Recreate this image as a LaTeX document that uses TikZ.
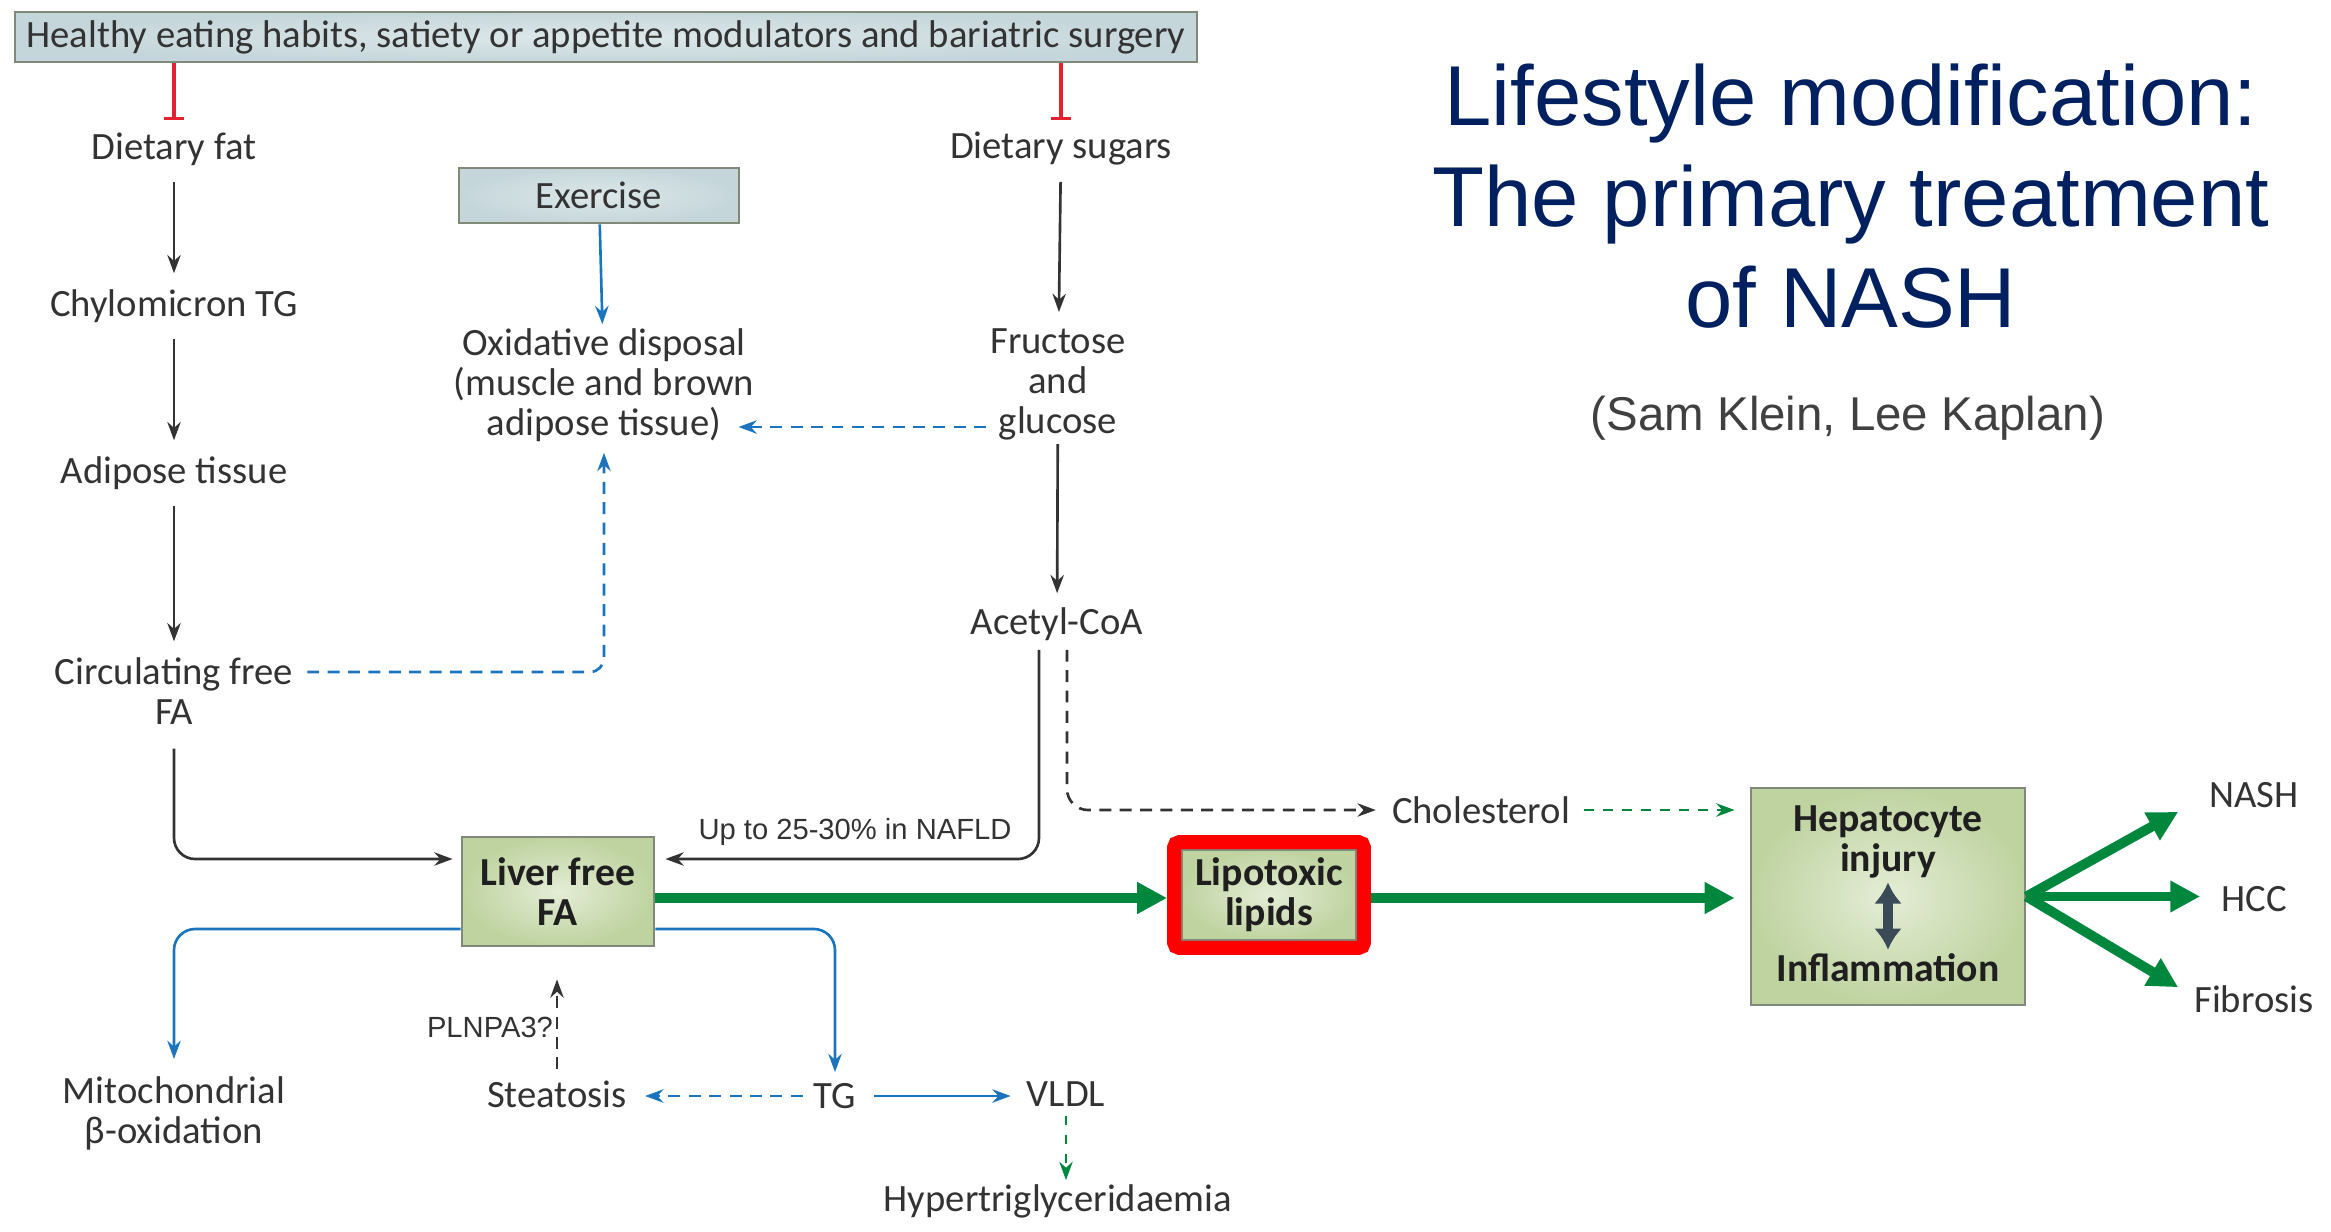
\documentclass[tikz,border=0pt]{standalone}
\usepackage{fontspec}
\setmainfont{Carlito}
\newfontfamily\arial{Liberation Sans}
\usetikzlibrary{arrows.meta}
\usetikzlibrary{fit}
\definecolor{txtgrey}{HTML}{333333}
\definecolor{authgrey}{HTML}{404040}
\definecolor{nblue}{HTML}{1C75BC}
\definecolor{ngreen}{HTML}{00873E}
\definecolor{nred}{HTML}{E3212F}
\definecolor{boxgreen}{HTML}{BFD3A0}
\definecolor{boxgreenin}{HTML}{E4EDD6}
\definecolor{boxblue}{HTML}{C5D6DA}
\definecolor{boxbluein}{HTML}{DDE8EA}
\definecolor{boxedge}{HTML}{80897A}
\definecolor{navy}{HTML}{002060}
\definecolor{slate}{HTML}{3A4A57}

\begin{document}
\begin{tikzpicture}[
  lbl/.style={text=txtgrey, font=\fontsize{11}{11.4}\selectfont, align=center, inner sep=1pt},
  btxt/.style={text=black!88, font=\bfseries\fontsize{11.3}{11.4}\selectfont, align=center, inner sep=1pt},
  greenbox/.style={btxt, draw=boxedge, line width=0.8pt, inner color=boxgreenin, outer color=boxgreen, inner sep=0pt},
  bluebox/.style={lbl, draw=boxedge, line width=0.8pt, inner color=boxbluein, outer color=boxblue, inner sep=0pt},
  arl/.style={text=txtgrey, font=\arial\fontsize{8.3}{10}\selectfont, inner sep=1pt},
  blk/.style={txtgrey, line width=0.75pt, -{Stealth[length=\l, width=\w]}},
  blu/.style={nblue, line width=0.75pt, -{Stealth[length=\l, width=\w]}},
  gdsh/.style={ngreen, line width=0.75pt, dash pattern=on 2.8pt off 2.6pt, -{Stealth[length=\l, width=\w]}},
  grn/.style={ngreen, line width=2.8pt, -{Triangle[length=8.5pt, width=8.5pt]}},
  dsh/.style={dash pattern=on 3.4pt off 2.4pt},
  gap/.style={shorten <=0.12cm, shorten >=0.12cm},
  inh/.style={nred, line width=0.9pt, -{Bar[width=5.5pt]}},
]
\def\l{5.2pt}
\def\w{3.8pt}
\useasboundingbox (0,0) rectangle (23.31,-12.32);
% left column and top
\node [bluebox, minimum width=11.82cm, minimum height=0.50cm, name=top] at (6.06,-0.37) {Healthy eating habits, satiety or appetite modulators and bariatric surgery};
\node [lbl, name=fat]   at (1.74,-1.49) {Dietary fat};
\node [lbl, name=chylo] at (1.74,-3.06) {Chylomicron TG};
\node [lbl, name=adip]  at (1.74,-4.73) {Adipose tissue};
\node [lbl, name=circ]  at (1.74,-6.91) {Circulating free\\FA};
\node [lbl, name=mito]  at (1.74,-11.13) {Mitochondrial\\β-oxidation};
% middle
\node [bluebox, minimum width=2.80cm, minimum height=0.55cm, name=exer] at (5.99,-1.955) {Exercise};
\node [lbl, name=oxid]  at (6.04,-3.85) {Oxidative disposal\\(muscle and brown\\adipose tissue)};
\node [greenbox, minimum width=1.92cm, minimum height=1.09cm, name=liver] at (5.58,-8.915) {Liver free\\FA};
\node [lbl, name=stea]  at (5.57,-10.94) {Steatosis};
\node [lbl, name=tg]    at (8.35,-10.96) {TG};
\node [lbl, name=vldl]  at (10.66,-10.94) {VLDL};
\node [lbl, name=hyper] at (10.58,-12.01) {Hypertriglyceridaemia};
\node [arl, name=upto]  at (8.55,-8.32) {Up to 25-30\% in NAFLD};
\node [arl, name=pln]   at (4.90,-10.27) {PLNPA3?};
% sugars
\node [lbl, name=sug]   at (10.61,-1.49) {Dietary sugars};
\node [lbl, name=fruc]  at (10.58,-3.84) {Fructose\\and\\glucose};
\node [lbl, name=acoa]  at (10.57,-6.24) {Acetyl-CoA};
\node [lbl, name=chol]  at (14.81,-8.10) {Cholesterol};
% right part
\node [greenbox, minimum width=1.74cm, minimum height=0.90cm, name=lipo] at (12.69,-8.95) {Lipotoxic\\lipids};
\node [draw=red, line width=0.14cm, rounded corners=1.5pt, fit=(lipo), inner sep=0.065cm, name=lipored] {};
\node [greenbox, minimum width=2.74cm, minimum height=2.17cm, name=hep] at (18.88,-8.965) {};
\node [btxt, name=hepa] at (18.88,-8.42) {Hepatocyte\\injury};
\node [btxt, name=hepi] at (18.88,-9.68) {Inflammation};
\node [lbl, name=nash] at (22.54,-7.95) {NASH};
\node [lbl, name=hcc]  at (22.54,-8.99) {HCC};
\node [lbl, name=fib]  at (22.54,-9.99) {Fibrosis};
\node [text=navy, font=\arial\fontsize{24.2}{28.7}\selectfont, align=center, name=title] at (18.51,-1.96) {Lifestyle modification:\\The primary treatment\\of NASH};
\node [text=authgrey, font=\arial\fontsize{13.5}{16}\selectfont, name=auth] at (18.48,-4.18) {(Sam Klein, Lee Kaplan)};

\draw [inh] (top.south -| fat) -- ([yshift=0.08cm]fat.north);
\draw [inh] (top.south -| sug) -- ([yshift=0.08cm]sug.north);
\draw [blk, gap] (fat) -- (chylo);
\draw [blk, gap] (chylo) -- (adip);
\draw [blk, gap] (adip) -- (circ);
\draw [blk, gap] (sug) -- (fruc);
\draw [blk, shorten >=0.1cm] (fruc) -- (acoa);
\draw [blu] (exer) -- (oxid);
\draw [blu, dsh, rounded corners=4pt, shorten <=0.1cm, shorten >=0.07cm] ([yshift=0.19cm]circ.east) -| (oxid.south);
\draw [blu, dsh] ([yshift=-0.43cm]fruc.west) -- ([xshift=-0.2cm,yshift=-0.43cm]fruc.west -| oxid.east);
\draw [blk, rounded corners=6pt, shorten <=0.2cm, shorten >=0.08cm] (circ.south) |- ([yshift=0.325cm]liver.west);
\draw [blk, rounded corners=6pt, shorten <=0.05cm, shorten >=0.1cm] ([xshift=-0.18cm]acoa.south) |- ([yshift=0.325cm]liver.east);
\draw [blk, dsh, rounded corners=6pt, shorten <=0.05cm, shorten >=0.12cm] ([xshift=0.1cm]acoa.south) |- (chol.west);
\draw [gdsh, shorten <=0.1cm, shorten >=0.15cm] (chol.east) -- (chol.east -| hep.west);
\draw [grn] ([yshift=-0.065cm]liver.east) -- ([yshift=-0.065cm]liver.east -| lipored.west);
\draw [grn, shorten >=0.15cm] ([yshift=-0.03cm]lipored.east) -- ([yshift=-0.03cm]lipored.east -| hep.west);
\draw [grn] (hep.east) -- ([xshift=-0.27cm]nash.south west);
\draw [grn, shorten >=0.17cm] (hep.east) -- (hep.east -| hcc.west);
\draw [grn] (hep.east) -- ([xshift=-0.12cm,yshift=-0.06cm]fib.north west);
\draw [slate, line width=2.6pt, {Latex[length=6pt, width=8pt]}-{Latex[length=6pt, width=8pt]}] (hepa.south) -- (hepi.north);
\draw [blu, rounded corners=6pt, shorten >=0.13cm] ([yshift=-0.375cm]liver.west) -| (mito.north);
\draw [blu, rounded corners=6pt, shorten >=0.07cm] ([yshift=-0.375cm]liver.east) -| (tg.north);
\draw [blk, dsh, shorten <=0.07cm, shorten >=0.32cm] (stea.north) -- (stea.north |- liver.south);
\draw [blu, dsh, shorten <=0.07cm, shorten >=0.14cm] (tg.west) -- (tg.west -| stea.east);
\draw [blu, shorten <=0.14cm, shorten >=0.12cm] (tg.east) -- (tg.east -| vldl.west);
\draw [gdsh, shorten <=0.05cm] (vldl.south) -- (vldl.south |- hyper.north);
\end{tikzpicture}
\end{document}
